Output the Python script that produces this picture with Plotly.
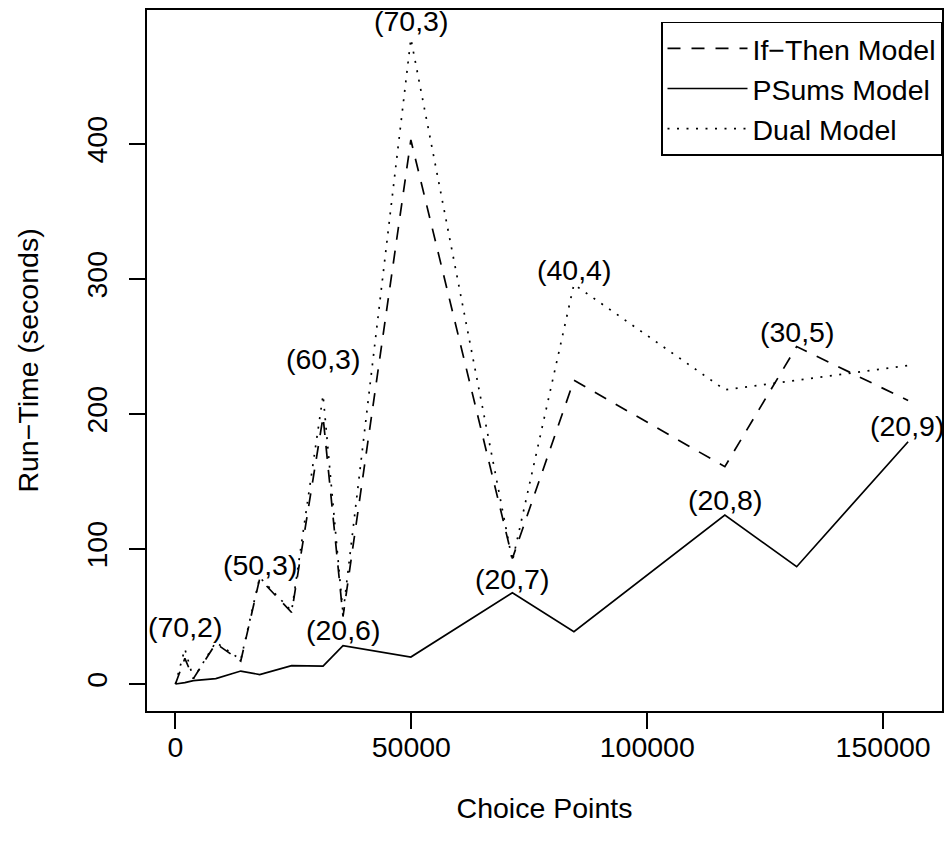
import plotly.graph_objects as go

# Choice points (x) shared by all three models
choice_points = [0, 2000, 3800, 8560, 13850, 17860, 24630, 31290, 35520,
                 49900, 71420, 84460, 116450, 131670, 155290]

# Run-times in seconds
ifthen_time = [0, 19, 4, 30, 17, 78, 53, 198, 50, 403, 93, 225, 161, 250, 210]
psums_time = [0, 1, 2.5, 4, 9.6, 7, 13.6, 13.3, 28.4, 20, 67.6, 38.7, 125.2, 86.9, 179.5]
dual_time = [0, 26, 4, 31, 18, 79, 54, 214, 52, 478, 91, 296, 218, 225, 236]

# Point annotations
label_x = [2000, 17860, 31290, 35520, 49900, 71420, 84460, 116450, 131670, 155000]
label_y = [42, 88, 241, 40, 491, 78, 307, 136, 261, 191]
label_text = ["(70,2)", "(50,3)", "(60,3)", "(20,6)", "(70,3)", "(20,7)",
              "(40,4)", "(20,8)", "(30,5)", "(20,9)"]

x_ticks = [0, 50000, 100000, 150000]
y_ticks = [0, 100, 200, 300, 400]

FONT = "Liberation Sans, Arial, Helvetica, sans-serif"
FS = 28.5
LW = 1.7

fig = go.Figure()
fig.add_trace(go.Scatter(x=choice_points, y=ifthen_time, mode="lines",
                         name="If\u2212Then Model",
                         line=dict(color="black", width=LW, dash="13px,11px")))
fig.add_trace(go.Scatter(x=choice_points, y=psums_time, mode="lines",
                         name="PSums Model",
                         line=dict(color="black", width=LW)))
fig.add_trace(go.Scatter(x=choice_points, y=dual_time, mode="lines",
                         name="Dual Model",
                         line=dict(color="black", width=LW, dash="2px,7.5px")))

for lx, ly, lt in zip(label_x, label_y, label_text):
    fig.add_annotation(x=lx, y=ly, text=lt, showarrow=False,
                       xanchor="center", yanchor="middle",
                       font=dict(family=FONT, size=FS, color="black"))

fig.update_layout(
    width=948, height=844,
    margin=dict(l=147, r=4, t=10, b=133),
    paper_bgcolor="white", plot_bgcolor="white",
    font=dict(family=FONT, size=FS, color="black"),
    showlegend=True,
    legend=dict(x=1, xanchor="right", y=0.983, yanchor="top",
                bgcolor="white", bordercolor="black", borderwidth=1.5,
                font=dict(family=FONT, size=FS, color="black"),
                itemwidth=80, tracegroupgap=0),
)
fig.update_xaxes(range=[-6025, 162475], tickvals=x_ticks,
                 ticktext=[str(v) for v in x_ticks],
                 showgrid=False, zeroline=False, showline=True, mirror=True,
                 linecolor="black", linewidth=LW, ticks="outside", ticklen=16,
                 tickwidth=LW, tickcolor="black", ticklabelstandoff=-6,
                 title=dict(text="Choice Points", standoff=36,
                            font=dict(family=FONT, size=FS)))
fig.update_yaxes(range=[-20, 499.3], tickvals=y_ticks,
                 ticktext=[str(v) for v in y_ticks], tickangle=-90,
                 showgrid=False, zeroline=False, showline=True, mirror=True,
                 linecolor="black", linewidth=LW, ticks="outside", ticklen=16,
                 tickwidth=LW, tickcolor="black", ticklabelstandoff=11,
                 title=dict(text="Run\u2212Time (seconds)", standoff=34,
                            font=dict(family=FONT, size=FS)))

fig.write_html("out.html", config={"displayModeBar": False},
               post_script="document.body.style.margin='0';"
                           "document.body.style.overflow='hidden';")
